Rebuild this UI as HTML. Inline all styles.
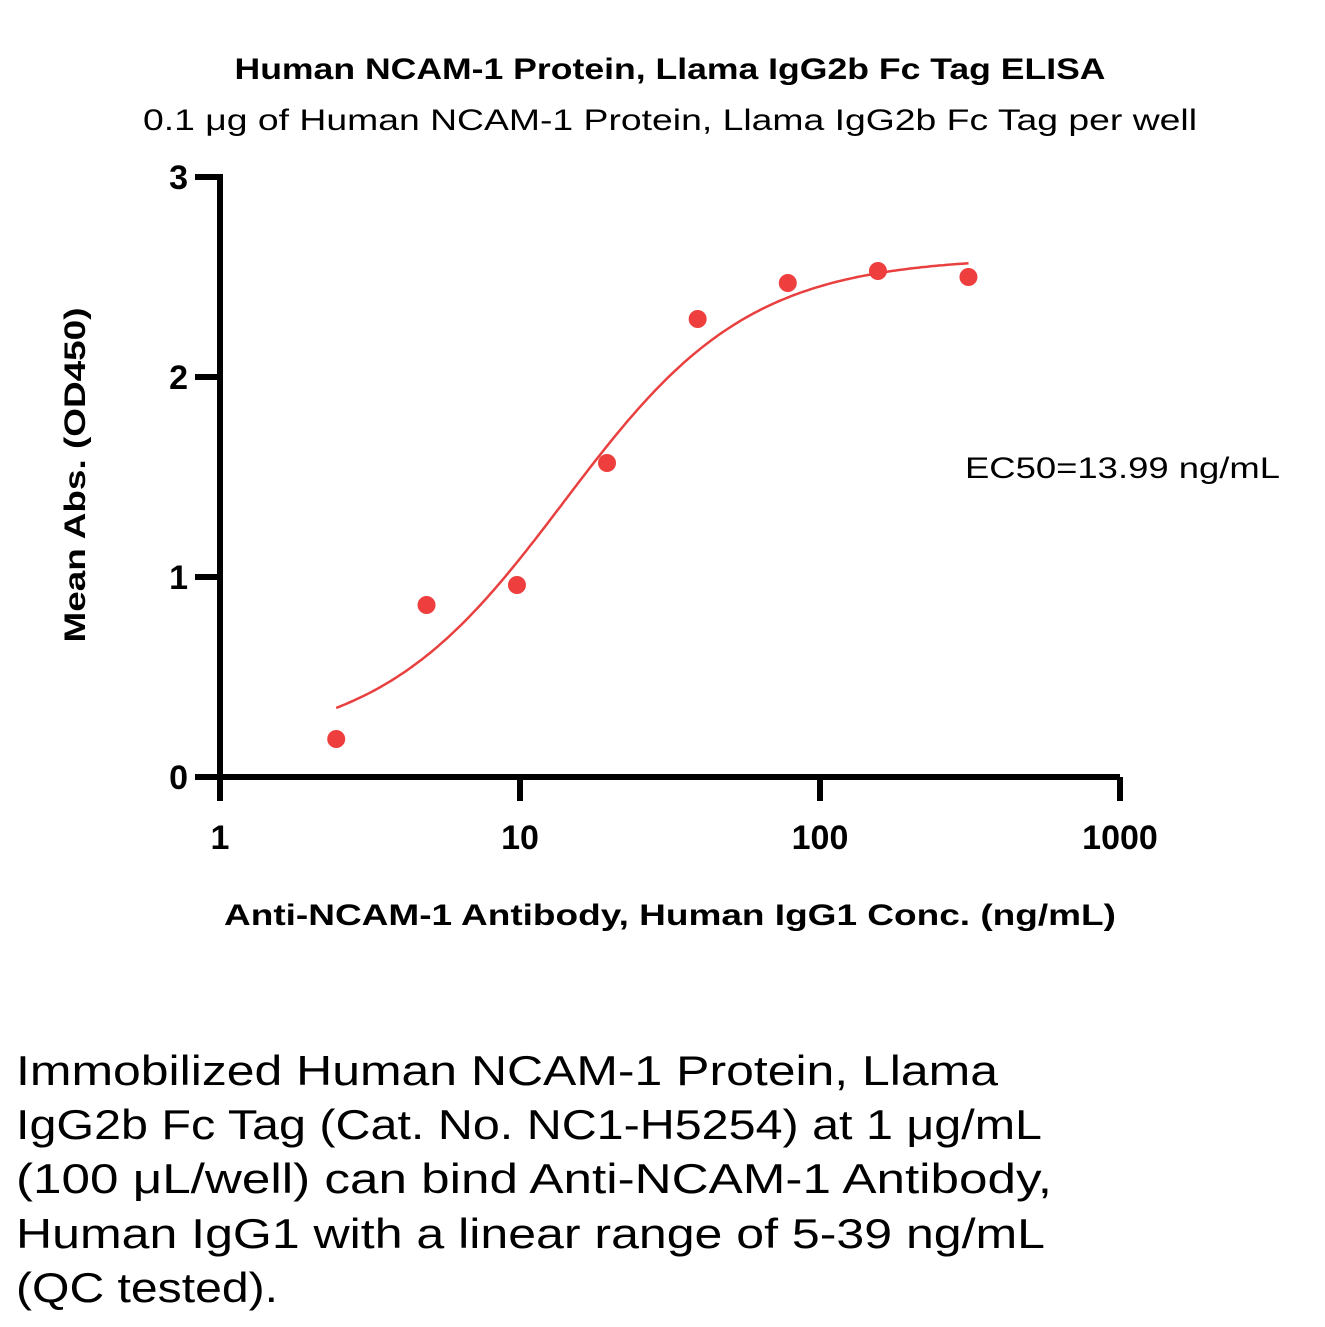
<!DOCTYPE html>
<html><head><meta charset="utf-8"><style>
html,body{margin:0;padding:0;background:#fff;}
svg{display:block;}
text{font-family:"Liberation Sans",sans-serif;fill:#000;}
</style></head><body>
<svg id="chart" width="1325" height="1327" viewBox="0 0 1325 1327" xmlns="http://www.w3.org/2000/svg">
<text x="670" y="79" text-anchor="middle" font-size="30" font-weight="bold" textLength="871" lengthAdjust="spacingAndGlyphs">Human NCAM-1 Protein, Llama IgG2b Fc Tag ELISA</text>
<text x="670" y="130" text-anchor="middle" font-size="30" textLength="1054" lengthAdjust="spacingAndGlyphs">0.1 μg of Human NCAM-1 Protein, Llama IgG2b Fc Tag per well</text>
<g id="axes"></g>
<g id="marks"></g>
<text x="670" y="925" text-anchor="middle" font-size="30" font-weight="bold" textLength="892" lengthAdjust="spacingAndGlyphs">Anti-NCAM-1 Antibody, Human IgG1 Conc. (ng/mL)</text>
<text transform="translate(85,475) rotate(-90)" text-anchor="middle" font-size="30" font-weight="bold" textLength="335" lengthAdjust="spacingAndGlyphs">Mean Abs. (OD450)</text>
<text x="965" y="478" font-size="30" textLength="315" lengthAdjust="spacingAndGlyphs">EC50=13.99 ng/mL</text>
<g font-size="42">
<text x="16" y="1085" textLength="982" lengthAdjust="spacingAndGlyphs">Immobilized Human NCAM-1 Protein, Llama</text>
<text x="16" y="1139" textLength="1026" lengthAdjust="spacingAndGlyphs">IgG2b Fc Tag (Cat. No. NC1-H5254) at 1 μg/mL</text>
<text x="16" y="1193" textLength="1036" lengthAdjust="spacingAndGlyphs">(100 μL/well) can bind Anti-NCAM-1 Antibody,</text>
<text x="16" y="1248" textLength="1029" lengthAdjust="spacingAndGlyphs">Human IgG1 with a linear range of 5-39 ng/mL</text>
<text x="16" y="1302" textLength="262" lengthAdjust="spacingAndGlyphs">(QC tested).</text>
</g>
</svg>
<script>
const concentrations=[2.44,4.88,9.77,19.5,39.1,78.1,156,312.5];
const absorbances=[0.19,0.86,0.96,1.57,2.29,2.47,2.53,2.50];
const xTicks=[1,10,100,1000];
const yTicks=[0,1,2,3];
const fitBottom=0.15, fitTop=2.6, fitEC50=13.99, fitHill=1.4;

const NS="http://www.w3.org/2000/svg";
const x0=220,x1=1120,y0=777,y1=177;
function xs(v){return x0+(Math.log10(v)-0)/(3)*(x1-x0);}
function ys(v){return y0-(v/3)*(y0-y1);}
function mk(tag,attrs,parent){const e=document.createElementNS(NS,tag);for(const k in attrs)e.setAttribute(k,attrs[k]);parent.appendChild(e);return e;}
const axes=document.getElementById('axes'), marks=document.getElementById('marks');

let e=mk('line',{x1:x0,y1:y0,x2:x1,y2:y0,stroke:'#000','stroke-width':6},axes);


e=mk('line',{x1:x0,y1:y0+3,x2:x0,y2:y1-3,stroke:'#000','stroke-width':6},axes);


xTicks.forEach(t=>{
  const x=xs(t);
  let l=mk('line',{x1:x,y1:y0,x2:x,y2:801,stroke:'#000','stroke-width':6},axes);
  
  
  let tx=mk('text',{x:x,y:849,'text-anchor':'middle','font-size':34,'font-weight':'bold'},axes);
  tx.textContent=t;
  
  
});
yTicks.forEach(t=>{
  const y=ys(t);
  let l=mk('line',{x1:195,y1:y,x2:x0,y2:y,stroke:'#000','stroke-width':6},axes);
  
  
  let tx=mk('text',{x:188,y:y+12,'text-anchor':'end','font-size':34,'font-weight':'bold'},axes);
  tx.textContent=t;
  
  
});
const lo=Math.log10(concentrations[0]), hi=Math.log10(concentrations[concentrations.length-1]);
let d='';
for(let i=0;i<=200;i++){
  const c=Math.pow(10,lo+(hi-lo)*i/200);
  const v=fitBottom+(fitTop-fitBottom)/(1+Math.pow(fitEC50/c,fitHill));
  d+=(i?'L':'M')+xs(c).toFixed(1)+','+ys(v).toFixed(1);
}
let p=mk('path',{d:d,fill:'none',stroke:'#E8403F','stroke-width':2.5},marks);


concentrations.forEach((c,i)=>{
  let ci=mk('circle',{cx:xs(c),cy:ys(absorbances[i]),r:9,fill:'#EE3E3E'},marks);
  
  
});
</script>
</body></html>
